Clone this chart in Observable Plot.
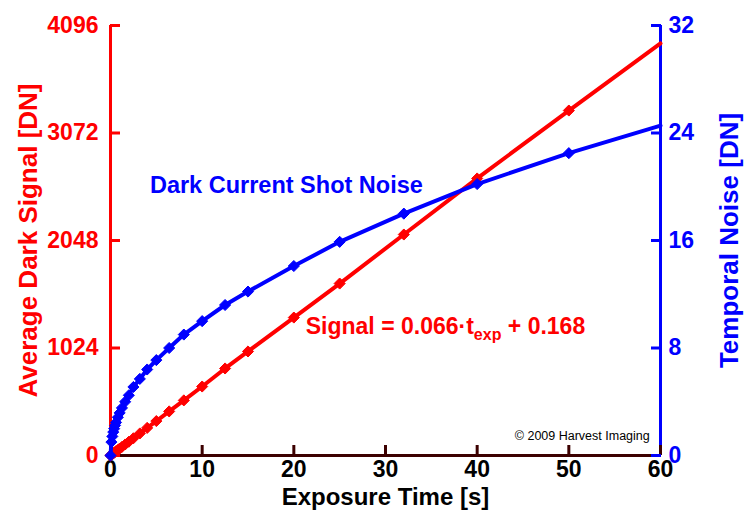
<!DOCTYPE html>
<html><head><meta charset="utf-8">
<script src="https://cdn.jsdelivr.net/npm/d3@7"></script>
<script src="https://cdn.jsdelivr.net/npm/@observablehq/plot@0.6"></script>
<style>body{margin:0;background:#fff}</style>
</head><body><div id="chart"></div>
<script>
// Exposure times [s]
const exposureTimes = [0, 0.1, 0.2, 0.3, 0.4, 0.5, 0.6, 0.8, 1.0, 1.25, 1.6, 2.0, 2.5, 3.2, 4, 5, 6.4, 8, 10, 12.5, 15, 20, 25, 32, 40, 50, 60];
// Average dark signal [DN] (left axis)
const darkSignal = [0, 7, 13, 20, 26, 33, 40, 53, 66, 82, 105, 131, 164, 210, 263, 328, 420, 525, 657, 829, 991, 1314, 1638, 2105, 2639, 3286, 3925];
// Temporal noise [DN] (right axis)
const temporalNoise = [0, 1.0, 1.42, 1.74, 2.0, 2.24, 2.46, 2.84, 3.17, 3.54, 4.0, 4.48, 5.1, 5.7, 6.4, 7.1, 8.0, 9.0, 10.0, 11.2, 12.2, 14.1, 15.9, 18.0, 20.2, 22.5, 24.55];

const xTicks = [0, 10, 20, 30, 40, 50, 60];
const signalTicks = [0, 1024, 2048, 3072, 4096];
const noiseTicks = [0, 8, 16, 24, 32];

const RED = "#ff0000", BLUE = "#0000ff", AXIS = "#3c0000";
const noiseToSignal = 4096 / 32;

const data = exposureTimes.map((t, i) => ({t, signal: darkSignal[i], noise: temporalNoise[i]}));
const markerData = data.filter(d => d.t < 60);

const bold = {fontWeight: "bold"};
const plain = d => String(d);

const plot = Plot.plot({
  width: 750,
  height: 520,
  marginTop: 25,
  marginBottom: 65,
  marginLeft: 110,
  marginRight: 90,
  style: {fontFamily: "'Liberation Sans', Arial, sans-serif", background: "#fff", overflow: "visible"},
  x: {domain: [0, 60]},
  y: {domain: [0, 4096]},
  marks: [
    // axis lines
    Plot.ruleY([0], {stroke: AXIS, strokeWidth: 3}),
    Plot.ruleX([0], {stroke: RED, strokeWidth: 3}),
    Plot.ruleX([60], {stroke: BLUE, strokeWidth: 3}),
    // x axis
    Plot.axisX(xTicks, {anchor: "bottom", tickSize: 10, dy: -10, stroke: AXIS, strokeWidth: 3, tickFormat: () => "", label: null}),
    Plot.axisX(xTicks, {anchor: "bottom", tickSize: 0, tickPadding: 5, fill: "#000", fontSize: 23, ...bold, tickFormat: plain, label: null}),
    // left axis
    Plot.axisY(signalTicks, {anchor: "left", tickSize: 10, dx: 10, stroke: RED, strokeWidth: 3, tickFormat: () => "", label: null}),
    Plot.axisY(signalTicks, {anchor: "left", tickSize: 0, tickPadding: 12, fill: RED, fontSize: 23, ...bold, tickFormat: plain, label: null}),
    // right axis
    Plot.axisY(noiseTicks.map(v => v * noiseToSignal), {anchor: "right", tickSize: 10, dx: -10, stroke: BLUE, strokeWidth: 3, tickFormat: () => "", label: null}),
    Plot.axisY(noiseTicks.map(v => v * noiseToSignal), {anchor: "right", tickSize: 0, tickPadding: 8, fill: BLUE, fontSize: 23, ...bold, tickFormat: d => String(d / noiseToSignal), label: null}),
    // axis titles
    Plot.text(["Average Dark Signal [DN]"], {frameAnchor: "left", dx: -82, rotate: -90, textAnchor: "middle", lineAnchor: "middle", fill: RED, fontSize: 26, ...bold}),
    Plot.text(["Temporal Noise [DN]"], {frameAnchor: "right", dx: 69, rotate: -90, textAnchor: "middle", lineAnchor: "middle", fill: BLUE, fontSize: 26, ...bold}),
    Plot.text(["Exposure Time [s]"], {frameAnchor: "bottom", dy: 42, textAnchor: "middle", lineAnchor: "middle", fill: "#000", fontSize: 24, ...bold}),
    // series
    Plot.line(data, {x: "t", y: "signal", stroke: RED, strokeWidth: 4}),
    Plot.dot(markerData, {x: "t", y: "signal", symbol: "diamond2", r: 5, fill: RED, stroke: RED, strokeWidth: 1}),
    Plot.line(data, {x: "t", y: d => d.noise * noiseToSignal, stroke: BLUE, strokeWidth: 4}),
    Plot.dot(markerData, {x: "t", y: d => d.noise * noiseToSignal, symbol: "diamond2", r: 5, fill: BLUE, stroke: BLUE, strokeWidth: 1}),
    // annotations
    Plot.text(["Dark Current Shot Noise"], {x: 4.3, y: 2570, textAnchor: "start", fill: BLUE, fontSize: 23.5, ...bold}),
    Plot.text(["Signal = 0.066·texp + 0.168"], {x: 21.3, y: 1229, textAnchor: "start", fill: RED, fontSize: 23, ...bold}),
    Plot.text(["© 2009 Harvest Imaging"], {x: 44.1, y: 190, textAnchor: "start", fill: "#000", fontSize: 12.5})
  ]
});

// subscript "exp" in the fit annotation
d3.select(plot).selectAll("text").filter(function() { return this.textContent === "Signal = 0.066·texp + 0.168"; })
  .each(function() {
    const t = d3.select(this);
    t.text(null);
    t.append("tspan").text("Signal = 0.066·t");
    t.append("tspan").attr("dy", 6).attr("font-size", 16).text("exp");
    t.append("tspan").attr("dy", -6).text(" + 0.168");
  });

document.getElementById("chart").appendChild(plot);
</script>
</body></html>
